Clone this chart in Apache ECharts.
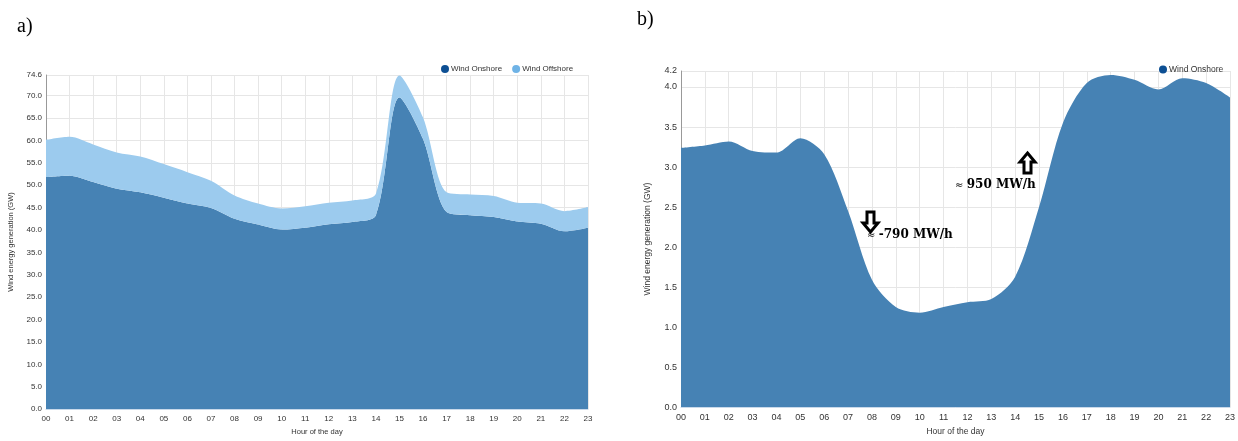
<!DOCTYPE html>
<html>
<head>
<meta charset="utf-8">
<script src="https://cdn.jsdelivr.net/npm/echarts@6/dist/echarts.min.js"></script>
<style>html,body{margin:0;padding:0;background:#fff;}#c{width:1238px;height:441px;}</style>
</head>
<body>
<div id="c"></div>
<script>
const hours = ['00','01','02','03','04','05','06','07','08','09','10','11','12','13','14','15','16','17','18','19','20','21','22','23'];
// panel a) (GW)
const onshoreA = [51.8,52.1,50.7,49.2,48.4,47.2,45.9,44.9,42.5,41.2,40.1,40.5,41.3,41.8,43.3,69.6,60.3,44.0,43.3,42.9,41.9,41.4,39.7,40.5];
const offshoreA = [8.3,8.7,8.4,8.1,8.0,7.5,7.0,6.1,5.2,4.7,4.7,4.8,4.8,4.8,4.8,4.9,4.8,4.4,4.6,4.7,4.2,4.5,4.5,4.6];
// panel b) (GW)
const onshoreB = [3.24,3.27,3.32,3.20,3.18,3.36,3.16,2.45,1.59,1.25,1.18,1.25,1.31,1.35,1.63,2.50,3.55,4.05,4.15,4.09,3.97,4.11,4.05,3.87];
const yMaxA = 74.6, yMaxB = 4.2;

const chart = echarts.init(document.getElementById('c'), null, {renderer:'canvas'});
const gridLine = {show:true, lineStyle:{color:'#e6e6e6', width:1}};
function xAxis(gi, fs){
  return {type:'category', gridIndex:gi, data:hours, boundaryGap:false,
    axisLine:{show:true, lineStyle:{color:'#c9d9ea'}}, axisTick:{show:false},
    axisLabel:{color:'#333', fontSize:fs, fontFamily:'Liberation Sans', margin:6},
    splitLine:gridLine,
    name:'Hour of the day', nameLocation:'middle', nameGap:17,
    nameTextStyle:{color:'#333', fontSize:fs-0.5, fontFamily:'Liberation Sans'}};
}
function yAxis(gi, max, interval, dec, fs, gap){
  return {type:'value', gridIndex:gi, min:0, max:max, interval:interval,
    axisLine:{show:true, lineStyle:{color:'#999'}}, axisTick:{show:false},
    axisLabel:{color:'#333', fontSize:fs, fontFamily:'Liberation Sans', margin:4,
      formatter:v=>v.toFixed(dec)},
    splitLine:gridLine,
    name:'Wind energy generation (GW)', nameLocation:'middle', nameGap:gap, nameRotate:90,
    nameTextStyle:{color:'#333', fontSize:fs-0.5, fontFamily:'Liberation Sans'}};
}
function downArrow(x, y){ // top-left corner
  return [[x+4,y],[x+11,y],[x+11,y+11],[x+15,y+11],[x+7.5,y+20],[x,y+11],[x+4,y+11]];
}
function upArrow(x, y){
  return [[x+7.5,y],[x+15,y+9],[x+11,y+9],[x+11,y+20],[x+4,y+20],[x+4,y+9],[x,y+9]];
}
const darkFill = '#4682b4', lightFill = '#9ccbee';
const annRich = {a:{fontSize:10, fontFamily:'DejaVu Sans', color:'#000'}, b:{fontSize:12, fontWeight:'bold', fontFamily:'DejaVu Serif', color:'#000'}};
chart.setOption({
  animation:false,
  grid:[
    {left:46, right:650, top:75, bottom:29, containLabel:false},
    {left:681, right:7, top:71, bottom:24, containLabel:false}
  ],
  legend:[
    {left:436, top:60, itemWidth:8, itemHeight:8, itemGap:10, icon:'circle',
     textStyle:{fontSize:8, color:'#333', fontFamily:'Liberation Sans', padding:[0,0,0,-3]},
     data:['Wind Onshore','Wind Offshore']},
    {left:1154, top:60, itemWidth:8, itemHeight:8, icon:'circle',
     textStyle:{fontSize:8.5, color:'#333', fontFamily:'Liberation Sans', padding:[0,0,0,-3]},
     data:[{name:'Wind Onshore '}]}
  ],
  xAxis:[xAxis(0,8), xAxis(1,9)],
  yAxis:[yAxis(0,yMaxA,5,1,8,31), yAxis(1,yMaxB,0.5,1,9,29)],
  series:[
    {name:'Wind Onshore', type:'line', xAxisIndex:0, yAxisIndex:0, stack:'a', data:onshoreA,
     smooth:0.3, showSymbol:false, itemStyle:{color:'#0d4f93'}, lineStyle:{width:0},
     areaStyle:{color:darkFill, opacity:1}},
    {name:'Wind Offshore', type:'line', xAxisIndex:0, yAxisIndex:0, stack:'a', data:offshoreA,
     smooth:0.3, showSymbol:false, itemStyle:{color:'#6fb3e6'}, lineStyle:{width:0},
     areaStyle:{color:lightFill, opacity:1}},
    {name:'Wind Onshore ', type:'line', xAxisIndex:1, yAxisIndex:1, data:onshoreB,
     smooth:0.3, showSymbol:false, itemStyle:{color:'#0d4f93'}, lineStyle:{width:0},
     areaStyle:{color:darkFill, opacity:1}}
  ],
  graphic:[
    {type:'text', left:17, top:17, style:{text:'a)', font:'20px "Liberation Serif"', fill:'#000'}},
    {type:'text', left:637, top:10, style:{text:'b)', font:'20px "Liberation Serif"', fill:'#000'}},
    {type:'polygon', shape:{points:downArrow(863,212)}, style:{fill:'#fff', stroke:'#000', lineWidth:3, lineJoin:'miter'}, z:100},
    {type:'text', left:867, top:229, z:100, style:{rich:annRich, text:'{a|≈} {b|-790 MW/h}'}},
    {type:'polygon', shape:{points:upArrow(1020,153)}, style:{fill:'#fff', stroke:'#000', lineWidth:3, lineJoin:'miter'}, z:100},
    {type:'text', left:955, top:179, z:100, style:{rich:annRich, text:'{a|≈} {b|950 MW/h}'}}
  ]
});
</script>
</body>
</html>
